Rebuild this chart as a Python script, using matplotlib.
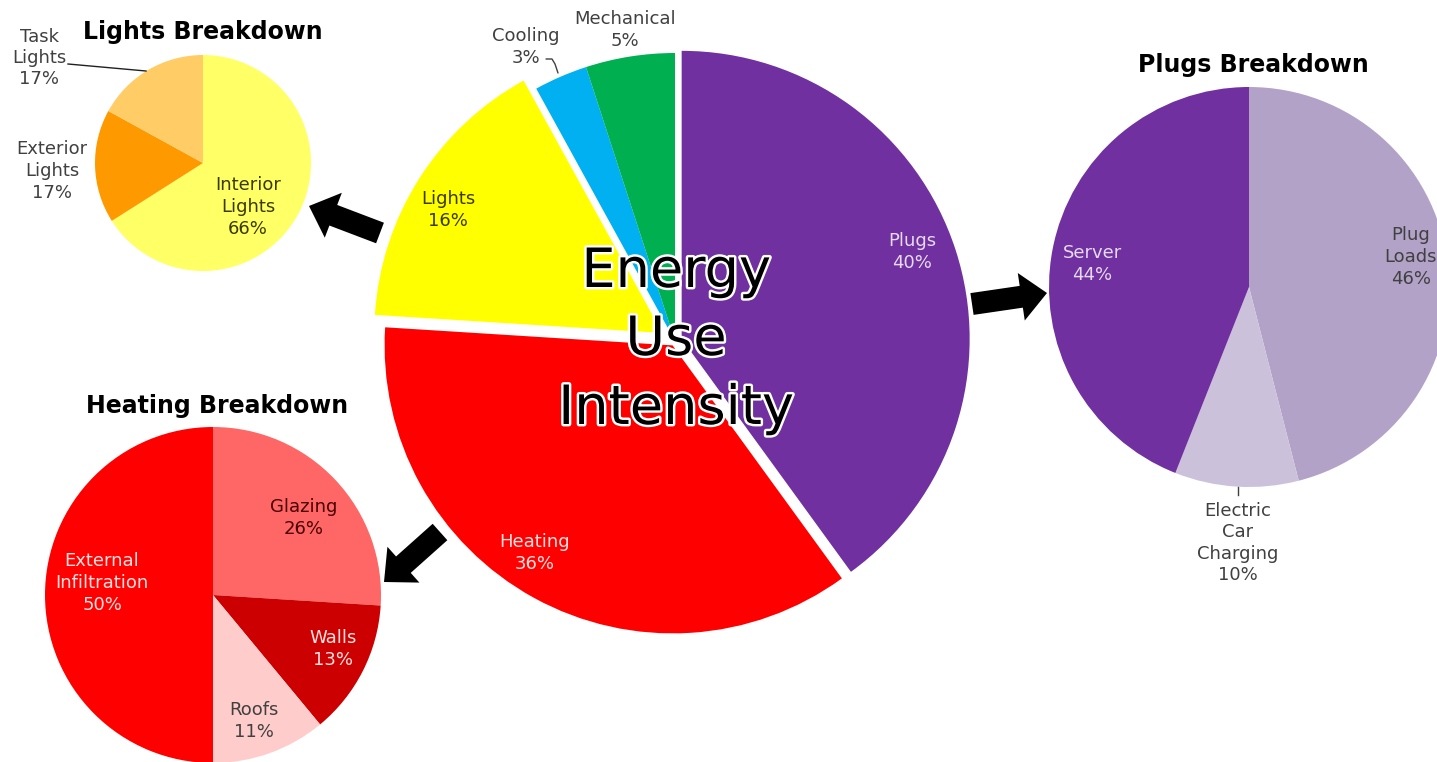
import matplotlib
matplotlib.use("Agg")
import matplotlib.pyplot as plt
import matplotlib.patheffects as pe
from matplotlib.patches import FancyArrow

W, H = 1437, 762

# Energy use intensity by end use (%)
eui_labels = ["Plugs", "Heating", "Lights", "Cooling", "Mechanical"]
eui_values = [40, 36, 16, 3, 5]

# Breakdowns of the three largest end uses (%)
lights_labels = ["Interior\nLights", "Exterior\nLights", "Task\nLights"]
lights_values = [66, 17, 17]

plugs_labels = ["Plug\nLoads", "Electric\nCar\nCharging", "Server"]
plugs_values = [46, 10, 44]

heating_labels = ["Glazing", "Walls", "Roofs", "External\nInfiltration"]
heating_values = [26, 13, 11, 50]

plt.rcParams["font.family"] = ["DejaVu Sans"]

fig = plt.figure(figsize=(W / 100, H / 100), dpi=100)
ax = fig.add_axes([0, 0, 1, 1])


def P(x, y):
    """Canvas position measured from the top-left corner."""
    return (x, H - y)


def pct(label, value):
    return f"{label}\n{value}%"


LABEL_FS = 13
LS = 1.25
DARK = "#404040"

# ---- main pie -------------------------------------------------------------
eui_colors = ["#7030A0", "#FF0000", "#FFFF00", "#00B0F0", "#00B050"]
eui_explode = [7, 5, 15, 0, 0]
eui_text_colors = ["#E6DAF0", "#FFE2E2", "#3A3A00", DARK, DARK]
eui_label_pos = [(912, 252), (535, 553), (448, 210), (526, 47), (625, 30)]

ax.pie(eui_values, colors=eui_colors, startangle=90, counterclock=False,
       center=P(675, 341), radius=288, explode=eui_explode,
       wedgeprops=dict(linewidth=0), frame=True)
for lab, v, c, pos in zip(eui_labels, eui_values, eui_text_colors, eui_label_pos):
    ax.text(*P(*pos), pct(lab, v), ha="center", va="center",
            fontsize=LABEL_FS, color=c, linespacing=LS)

# leader for the small cooling slice
ax.plot(*zip(P(546, 59), P(552, 59), P(555, 64), P(558, 73)),
        color=DARK, lw=1.0, solid_capstyle="round")

# centre title with white outline
outline = [pe.withStroke(linewidth=3.5, foreground="white")]
for word, base in zip(["Energy", "Use", "Intensity"], [287, 355, 424]):
    ax.text(*P(676, base), word, ha="center", va="baseline", fontsize=39,
            color="black", path_effects=outline, zorder=6)

# ---- lights breakdown -------------------------------------------------------
lights_colors = ["#FFFF66", "#FF9900", "#FFCC66"]
lights_text_colors = ["#3A3A00", DARK, DARK]
lights_label_pos = [(248, 207), (52, 171), (39, 58)]
ax.pie(lights_values, colors=lights_colors, startangle=90, counterclock=False,
       center=P(203, 163), radius=108, wedgeprops=dict(linewidth=0), frame=True)
for lab, v, c, pos in zip(lights_labels, lights_values, lights_text_colors,
                          lights_label_pos):
    ax.text(*P(*pos), pct(lab, v), ha="center", va="center",
            fontsize=LABEL_FS, color=c, linespacing=LS)
ax.plot(*zip(P(68, 64), P(146, 71)), color="#202020", lw=1.0)
ax.text(*P(203, 32), "Lights Breakdown", ha="center", va="center",
        fontsize=17, fontweight="bold", color="black")

# ---- plugs breakdown --------------------------------------------------------
plugs_colors = ["#B3A2C7", "#CCC1DA", "#7030A0"]
plugs_text_colors = [DARK, DARK, "#E6DAF0"]
plugs_label_pos = [(1411, 257), (1238, 543), (1092, 264)]
ax.pie(plugs_values, colors=plugs_colors, startangle=90, counterclock=False,
       center=P(1249, 287), radius=200, wedgeprops=dict(linewidth=0), frame=True)
for lab, v, c, pos in zip(plugs_labels, plugs_values, plugs_text_colors,
                          plugs_label_pos):
    ax.text(*P(*pos), pct(lab, v), ha="center", va="center",
            fontsize=LABEL_FS, color=c, linespacing=LS)
ax.plot(*zip(P(1238, 487), P(1238, 495)), color=DARK, lw=1.0)
ax.text(*P(1253, 65), "Plugs Breakdown", ha="center", va="center",
        fontsize=17, fontweight="bold", color="black")

# ---- heating breakdown ------------------------------------------------------
heating_colors = ["#FF6666", "#CC0000", "#FFCCCC", "#FF0000"]
heating_text_colors = ["#4A0000", "#FFE2E2", DARK, "#FFE2E2"]
heating_label_pos = [(304, 518), (333, 649), (254, 721), (102, 583)]
ax.pie(heating_values, colors=heating_colors, startangle=90, counterclock=False,
       center=P(213, 595), radius=168, wedgeprops=dict(linewidth=0), frame=True)
for lab, v, c, pos in zip(heating_labels, heating_values, heating_text_colors,
                          heating_label_pos):
    ax.text(*P(*pos), pct(lab, v), ha="center", va="center",
            fontsize=LABEL_FS, color=c, linespacing=LS)
ax.text(*P(217, 406), "Heating Breakdown", ha="center", va="center",
        fontsize=17, fontweight="bold", color="black")

# ---- arrows from the main pie to each breakdown -----------------------------
arrows = [((380, 233), (309, 206)),
          ((972, 304), (1047, 293)),
          ((440, 532), (384, 582))]
for tail, tip in arrows:
    x0, y0 = P(*tail)
    x1, y1 = P(*tip)
    ax.add_patch(FancyArrow(x0, y0, x1 - x0, y1 - y0, width=22, head_width=48,
                            head_length=26, length_includes_head=True,
                            color="black", linewidth=0, zorder=5))

ax.set_xlim(0, W)
ax.set_ylim(0, H)
ax.set_aspect("auto")
ax.axis("off")

fig.savefig("out.png", dpi=100, facecolor="white")
